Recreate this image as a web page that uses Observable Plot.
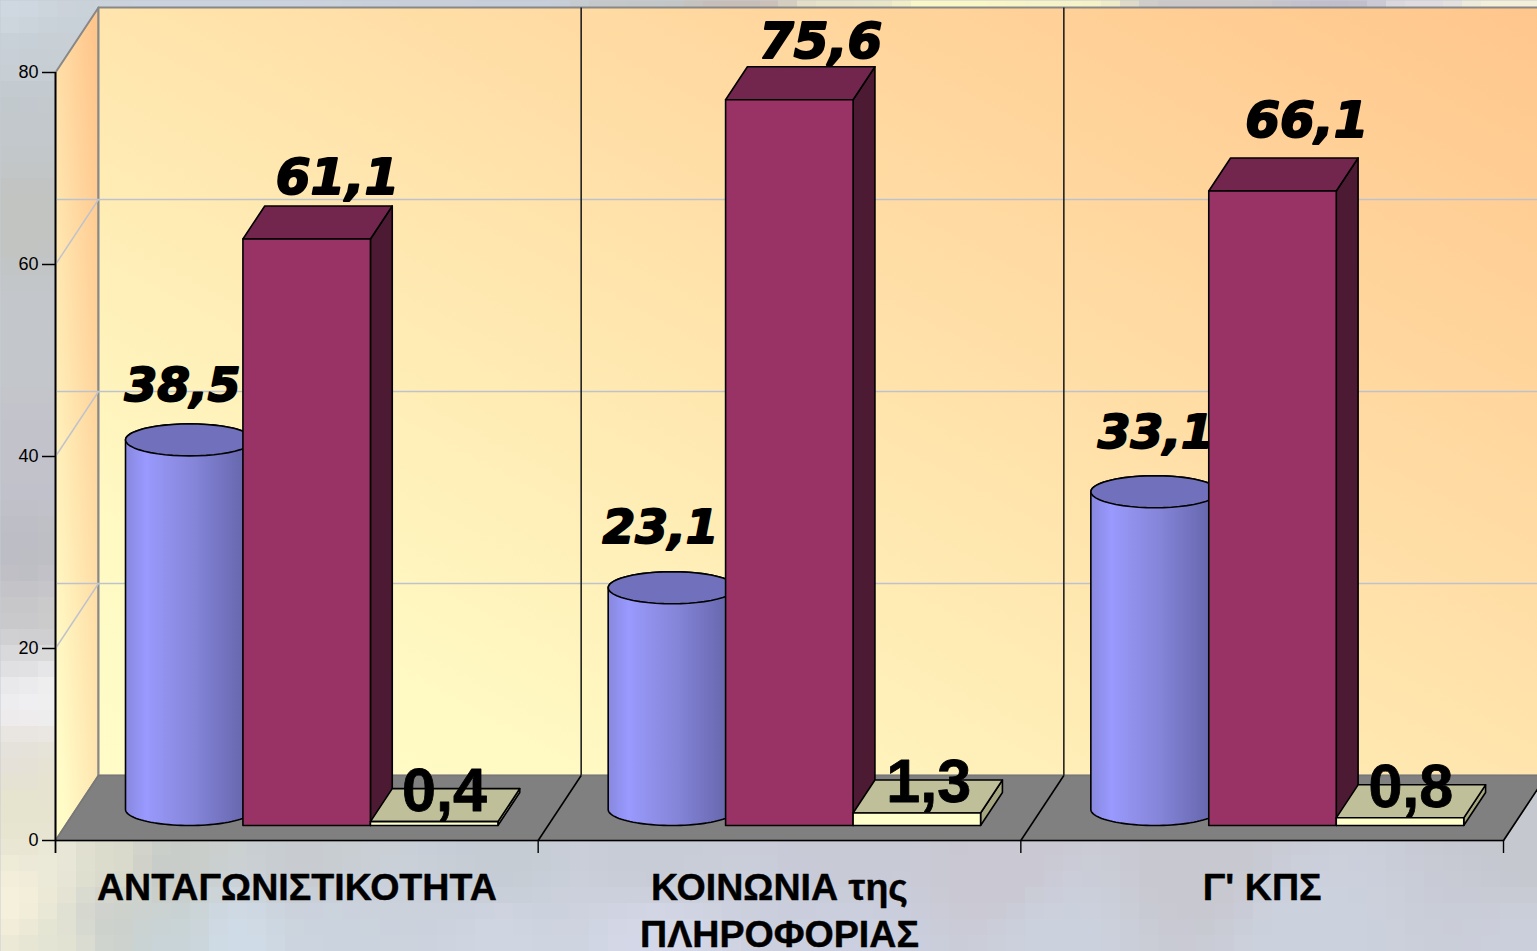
<!DOCTYPE html>
<html><head><meta charset="utf-8">
<script src="https://cdn.jsdelivr.net/npm/d3@7"></script>
<script src="https://cdn.jsdelivr.net/npm/@observablehq/plot@0.6"></script>
<style>html,body{margin:0;padding:0;background:#c8ccd6;overflow:hidden}svg{display:block}</style>
</head><body><div id="chart"></div>
<script>
// ---- data
const categories = ["ΑΝΤΑΓΩΝΙΣΤΙΚΟΤΗΤΑ", "ΚΟΙΝΩΝΙΑ της\nΠΛΗΡΟΦΟΡΙΑΣ", "Γ' ΚΠΣ"];
const cylinderValues = [38.5, 23.1, 33.1];
const redValues = [61.1, 75.6, 66.1];
const creamValues = [0.4, 1.3, 0.8];
const yTicks = [0, 20, 40, 60, 80];
const gridValues = [20, 40, 60];

// ---- geometry of the 3-D box, in chart units
const CAT_PX = 482.67, UNIT_PX = 9.6;
const DX = 43 / CAT_PX, DY = 65 / UNIT_PX;
const W = 127.5 / CAT_PX;
const D0 = 15 / 65, D1 = D0 + 33 / 65, DC = 31 / 65;
const RED = 177.5 / CAT_PX, CREAM = RED + W, CYL = 113.5 / CAT_PX;
const RX = 64 / CAT_PX, RY = 16 / UNIT_PX;
const slotShift = [0, 0, 0.5].map(p => p / CAT_PX);
const pt = (c, off, v, d) => ({x: c + off + d * DX, y: v + d * DY});
const face = (pts, fill, stroke = "black", strokeWidth = 1.6) =>
  Plot.line([...pts, pts[0]], {x: "x", y: "y", fill, stroke, strokeWidth});

function box(c, off, v, front, top, side) {
  return [
    face([pt(c, off + W, 0, D0), pt(c, off + W, 0, D1), pt(c, off + W, v, D1), pt(c, off + W, v, D0)], side),
    face([pt(c, off, v, D0), pt(c, off + W, v, D0), pt(c, off + W, v, D1), pt(c, off, v, D1)], top),
    face([pt(c, off, 0, D0), pt(c, off + W, 0, D0), pt(c, off + W, v, D0), pt(c, off, v, D0)], front)
  ];
}
function arc(c, v, a0, a1) {
  const n = 48, r = [], p = pt(c, CYL, v, DC);
  for (let i = 0; i <= n; ++i) {
    const a = a0 + (a1 - a0) * i / n;
    r.push({x: p.x + RX * Math.cos(a), y: p.y + RY * Math.sin(a)});
  }
  return r;
}
function cylinder(c, v) {
  return [
    face([...arc(c, 0, Math.PI, 2 * Math.PI), ...arc(c, v, 0, Math.PI)], "url(#cyl)"),
    face(arc(c, v, 0, 2 * Math.PI), "#7070BC")
  ];
}
const fmt = v => v.toFixed(1).replace(".", ",");
const label = (c, off, v, dv, font) => Plot.text([fmt(v)], {
  x: () => c + off, y: () => v + dv, text: d => d, lineAnchor: "bottom", textAnchor: "middle",
  fill: "black", ...font
});
const italicBase = {fontFamily: "DejaVu Sans", fontWeight: "bold", fontStyle: "italic", stroke: "black", strokeWidth: 2};
const italicCyl = {...italicBase, fontSize: 47};
const italicRed = {...italicBase, fontSize: 50};
const upright = {fontFamily: "Liberation Sans", fontWeight: "bold", fontSize: 61, stroke: "black", strokeWidth: 0.8};
const cylLabelX = [127, 122.4, 135].map(p => p / CAT_PX);
const cylLabelDv = [39, 45, 44].map(p => p / UNIT_PX + DC * DY);
const redLabelX = [282, 282.5, 286].map(p => p / CAT_PX);
const redLabelDv = [45, 42, 54].map(p => p / UNIT_PX + D0 * DY);
const creamLabelX = [389, 390.5, 390].map(p => p / CAT_PX);
const creamLabelDv = 11 / UNIT_PX + D0 * DY;

// ---- mosaic backdrop, anchor colours
const bgAnchors = [
  [0,0,"#d0d8e2"],[200,3,"#ccd4e0"],[500,3,"#c8d0dc"],[650,3,"#c4c8c8"],[730,3,"#c8beb8"],[850,3,"#e8e4c8"],
  [950,3,"#fbf8c8"],[1050,3,"#f8f4c8"],[1200,3,"#ccc8c8"],[1350,3,"#c0becc"],[1410,3,"#e0dce0"],[1510,3,"#f4f0d8"],
  [25,60,"#c8d0d6"],[25,110,"#c2c8cc"],[25,220,"#c2c4c2"],[25,330,"#c4c8cc"],[25,460,"#c2c2cc"],[25,560,"#bcbcc4"],
  [25,620,"#c4c4c8"],[25,660,"#dcdcde"],[25,700,"#f2f0f4"],[25,760,"#e4e0da"],[25,810,"#e6e4cc"],[15,900,"#f8f2dc"],
  [50,690,"#f4f4f4"],[50,620,"#cccccc"],[50,780,"#e8e4d0"],[55,860,"#eceada"],[55,940,"#e4e4d4"],[105,860,"#dcdccc"],[110,920,"#ccd0cc"],
  [170,870,"#c8ccc8"],[170,940,"#c8d4d8"],[240,940,"#d0dce8"],[300,870,"#c8ccd0"],[320,930,"#ccd4e0"],[500,870,"#c6ccd4"],[500,930,"#d0d6e2"],
  [650,860,"#c8ccd6"],[650,940,"#d4d8e8"],[850,860,"#c8cad6"],[850,940,"#ccd0e0"],[1000,870,"#cac8d2"],[1050,940,"#ccd2de"],[1200,865,"#c8c8d0"],[1300,940,"#ccd2de"],[1530,860,"#c6c8d0"],[1530,940,"#ccd0dc"]
].map(([x, y, c]) => ({x, y, c: d3.rgb(c)}));
const BW = 81, BH = 59;
const bgColors = [];
for (let j = 0; j < BH; ++j) for (let i = 0; i < BW; ++i) {
  const px = (i + 0.5) * 1537 / BW, py = (j + 0.5) * 951 / BH;
  let s = 0, r = 0, g = 0, b = 0;
  for (const a of bgAnchors) {
    const w = 1 / Math.pow((a.x - px) ** 2 + (a.y - py) ** 2 + 900, 2);
    s += w; r += w * a.c.r; g += w * a.c.g; b += w * a.c.b;
  }
  bgColors.push(`rgb(${r / s | 0},${g / s | 0},${b / s | 0})`);
}

const defs = () => {
  const g = document.createElementNS("http://www.w3.org/2000/svg", "defs");
  g.innerHTML = `
  <linearGradient id="wall" gradientUnits="userSpaceOnUse" x1="98" y1="775" x2="735" y2="-420">
    <stop offset="0" stop-color="#FFFCC8"/><stop offset="0.15" stop-color="#FFFAC4"/><stop offset="1" stop-color="#FFC68C"/></linearGradient>
  <linearGradient id="side" gradientUnits="userSpaceOnUse" x1="55" y1="700" x2="140.6" y2="693.9">
    <stop offset="0" stop-color="#FFFCC8"/><stop offset="1" stop-color="#FFC68C"/></linearGradient>
  <linearGradient id="cyl" x1="0" x2="1" y1="0" y2="0">
    <stop offset="0" stop-color="#8888DE"/><stop offset="0.16" stop-color="#9999FF"/><stop offset="0.3" stop-color="#9292EE"/>
    <stop offset="0.55" stop-color="#8484D8"/><stop offset="0.8" stop-color="#7070BC"/><stop offset="0.95" stop-color="#6666AA"/><stop offset="1" stop-color="#6060A0"/></linearGradient>`;
  return g;
};

const marks = [
  defs,
  Plot.raster(bgColors, {
    width: BW, height: BH, fill: d => d, imageRendering: "pixelated",
    x1: -55 / CAT_PX, x2: (1537 - 55) / CAT_PX, y1: 840 / UNIT_PX, y2: -111 / UNIT_PX
  }),
  // walls and floor
  face([pt(0, 0, 0, 0), pt(0, 0, 0, 1), pt(0, 0, 80, 1), pt(0, 0, 80, 0)], "url(#side)", "#888888", 2),
  face([pt(0, 0, 0, 1), pt(3, 0, 0, 1), pt(3, 0, 80, 1), pt(0, 0, 80, 1)], "url(#wall)", "#888888", 2),
  Plot.link(gridValues, {x1: () => 0, x2: () => 3 + DX, y1: v => v + DY, y2: v => v + DY, stroke: "#BEC2CC", strokeWidth: 1.4}),
  Plot.link(gridValues, {x1: () => 0, x2: () => DX, y1: v => v, y2: v => v + DY, stroke: "#BEC2CC", strokeWidth: 1.4}),
  face([pt(0, 0, 0, 0), pt(3, 0, 0, 0), pt(3, 0, 0, 1), pt(0, 0, 0, 1)], "#808080", "#777777", 1.5),
  Plot.link([1, 2], {x1: c => c + DX, x2: c => c + DX, y1: () => DY, y2: () => 80 + DY, stroke: "#222222", strokeWidth: 1.6}),
  Plot.link([1, 2, 3], {x1: c => c, x2: c => c + DX, y1: () => 0, y2: () => DY, stroke: "black", strokeWidth: 1.6}),
  Plot.ruleY([0], {x1: 0, x2: 3, stroke: "black", strokeWidth: 1.6}),
  // axes
  Plot.ruleX([0], {y1: -13 / UNIT_PX, y2: 80, stroke: "black", strokeWidth: 1.8}),
  Plot.ruleX([1, 2, 3], {y1: -13 / UNIT_PX, y2: 0, stroke: "black", strokeWidth: 1.4}),
  Plot.axisY({ticks: yTicks, tickFormat: d => d, tickSize: 13, tickPadding: 4, fontSize: 18, label: null, strokeWidth: 1.5}),
  Plot.text(categories, {
    x: (d, i) => i + 0.5, y: () => -26 / UNIT_PX, text: d => d, lineAnchor: "top", textAnchor: "middle",
    fontFamily: "Liberation Sans", fontWeight: "bold", fontSize: 37.6, lineHeight: 1.25, fill: "black",
    stroke: "black", strokeWidth: 0.4
  })
];
categories.forEach((_, c) => {
  marks.push(...cylinder(c, cylinderValues[c]));
  marks.push(label(c, cylLabelX[c], cylinderValues[c], cylLabelDv[c], italicCyl));
  marks.push(...box(c, RED + slotShift[c], redValues[c], "#993366", "#73264D", "#4D1A33"));
  marks.push(label(c, redLabelX[c], redValues[c], redLabelDv[c], italicRed));
  marks.push(...box(c, CREAM + slotShift[c], creamValues[c], "#FFFFCC", "#BFBF99", "#A6A680"));
  marks.push(label(c, creamLabelX[c], creamValues[c], creamLabelDv, upright));
});

const plot = Plot.plot({
  width: 1537, height: 951,
  marginLeft: 55, marginRight: 0, marginTop: 0, marginBottom: 0,
  style: {background: "transparent", fontFamily: "Liberation Sans", color: "black"},
  x: {domain: [0, (1537 - 55) / CAT_PX], range: [55, 1537], axis: null},
  y: {domain: [-111 / UNIT_PX, 840 / UNIT_PX], range: [951, 0], axis: null},
  color: {type: "identity"},
  marks
});
document.getElementById("chart").append(plot);
</script></body></html>
